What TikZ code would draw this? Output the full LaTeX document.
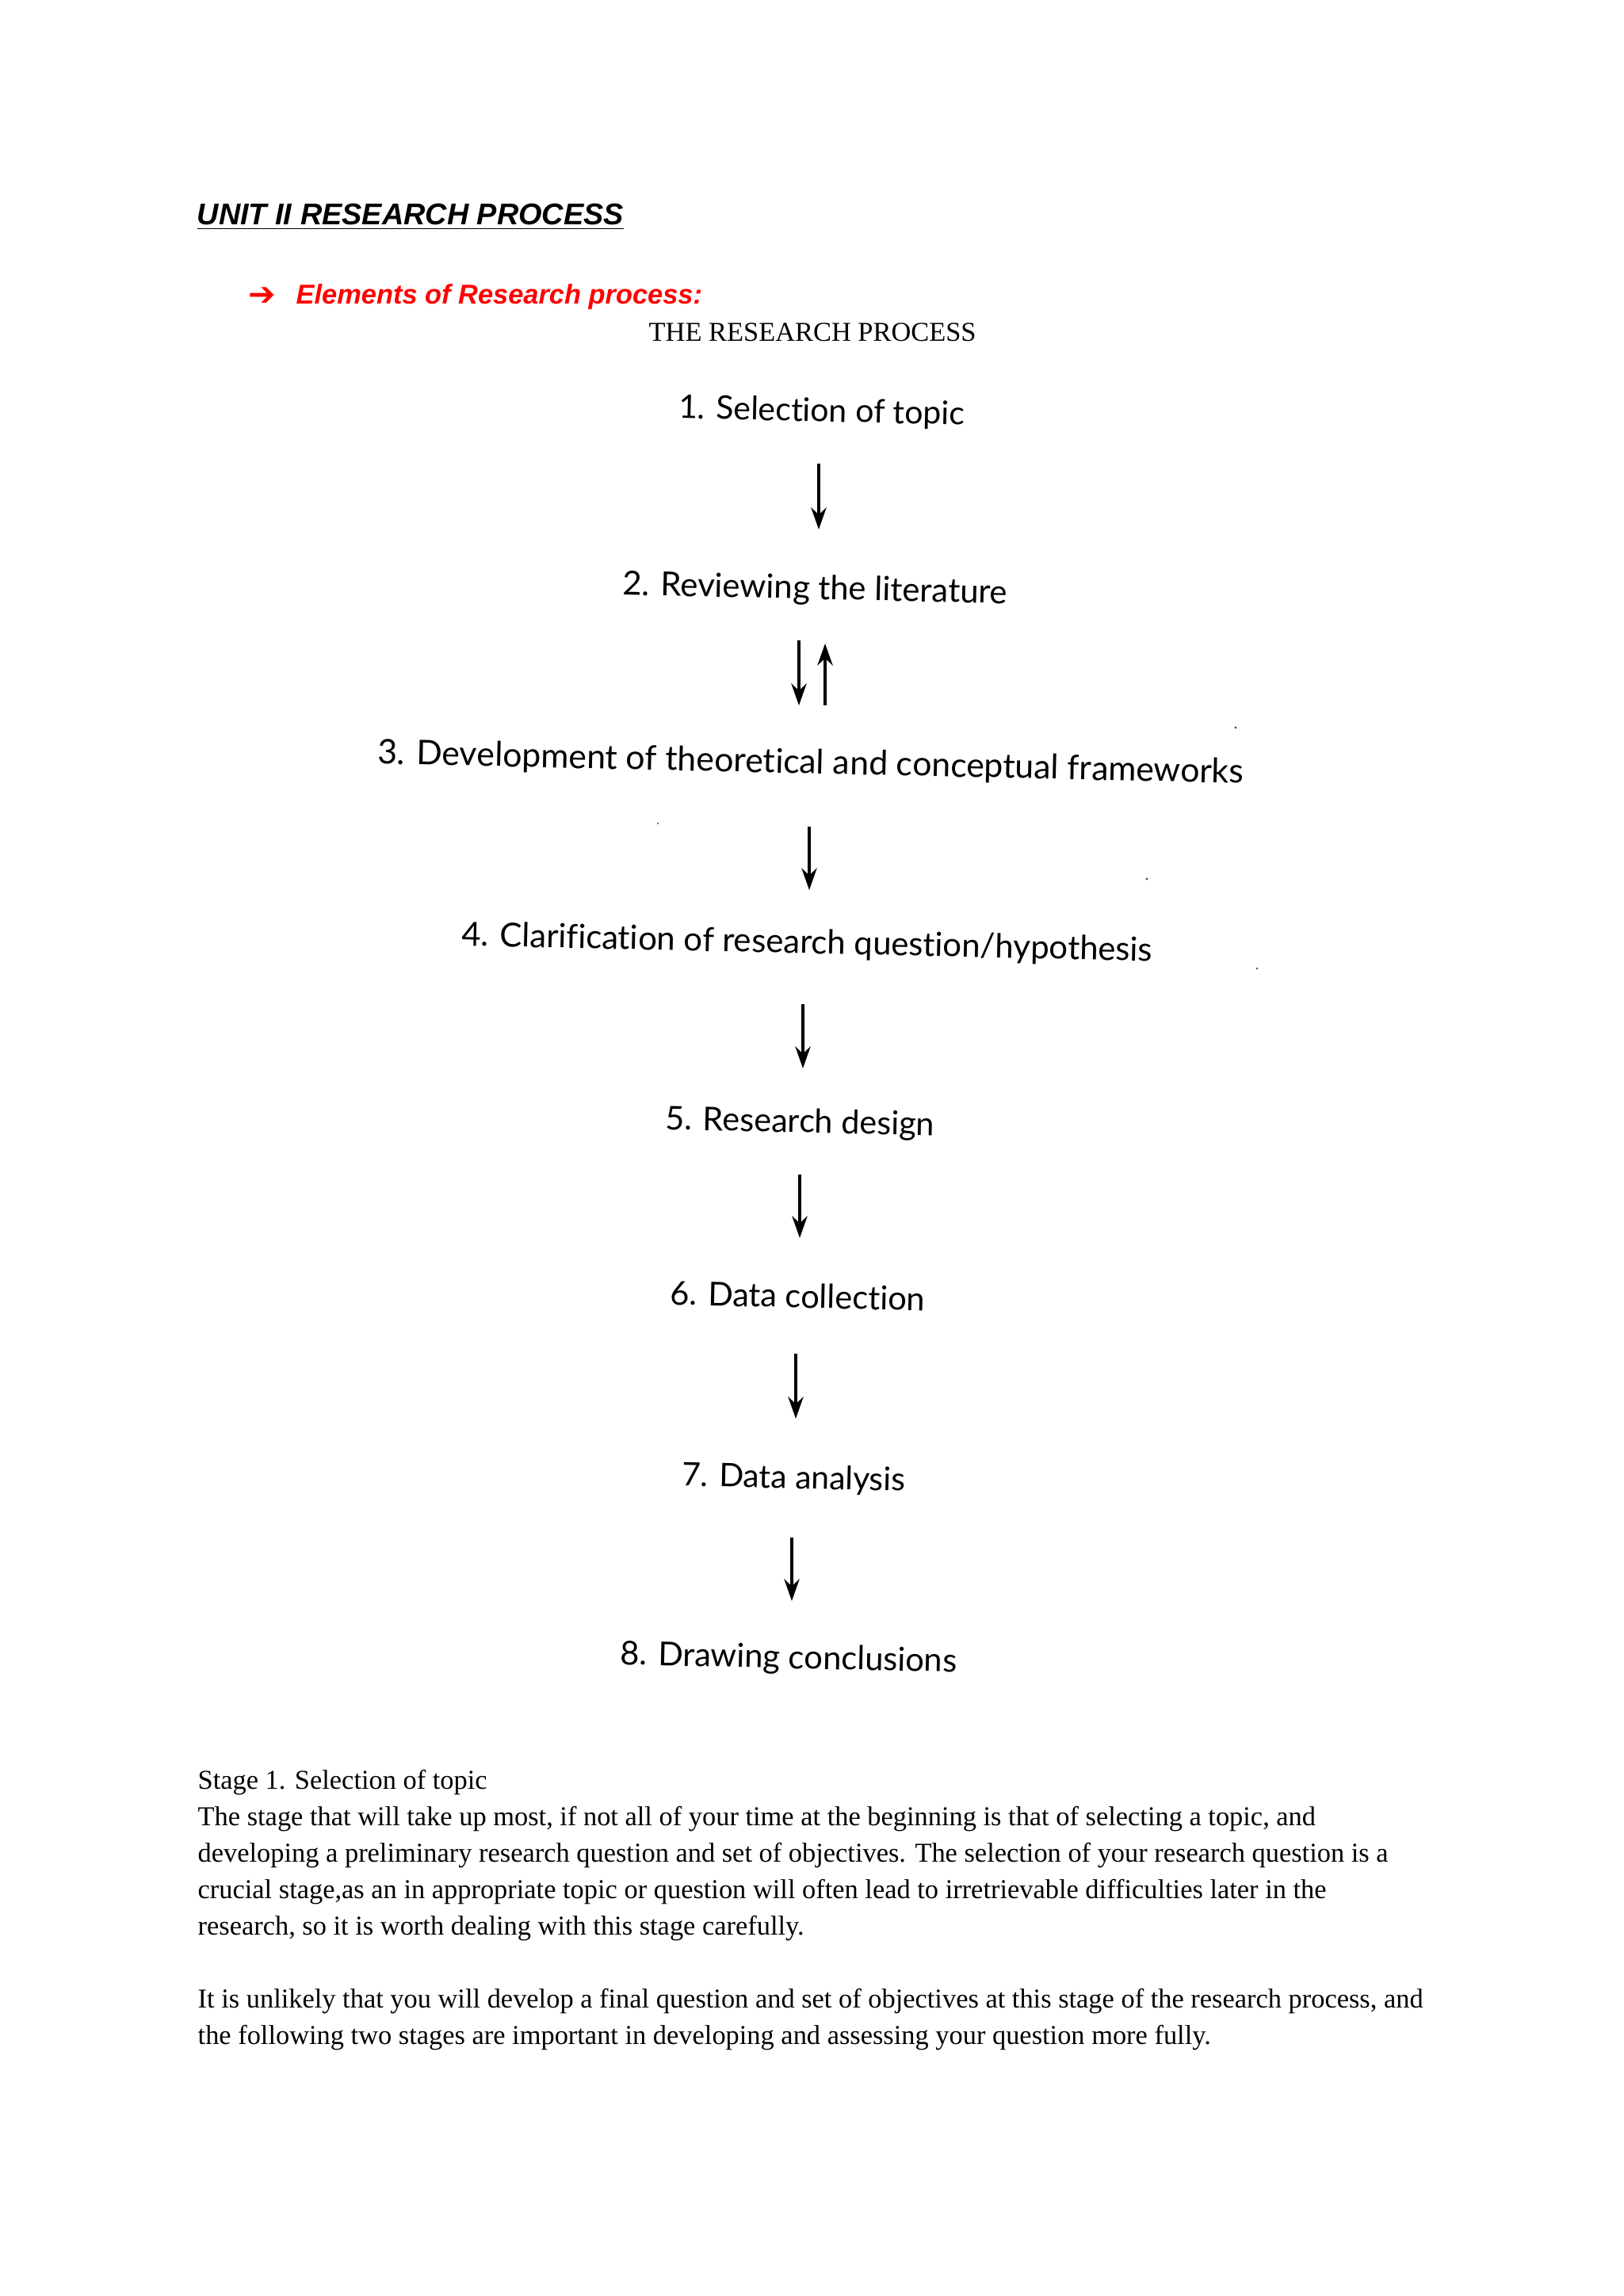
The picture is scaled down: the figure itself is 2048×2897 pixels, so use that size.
\documentclass[tikz,border=0pt]{standalone}
\usepackage{fontspec}
\setmainfont{Liberation Serif}
\newfontfamily\arialf{Liberation Sans}
\newfontfamily\diagf[Ligatures={NoCommon,NoContextual},RawFeature={-liga;-dlig;-clig}]{Lato}
\newfontfamily\symf{DejaVu Sans}
\usetikzlibrary{arrows.meta}
\newlength\pxu
\setlength\pxu{0.29066pt}
\definecolor{hdred}{HTML}{FF0000}
\begin{document}
\begin{tikzpicture}[x=0.29066pt,y=-0.29066pt,
  stage/.style={anchor=base,inner sep=0pt,rotate=-1.3,font=\diagf},
  flow/.style={-{Stealth[length=8pt,width=5.6pt,inset=2.6pt]},line width=1pt},
  bodyline/.style={anchor=base west,inner sep=0pt,font=\fontsize{10}{12}\selectfont},
  speck/.style={fill=black!70,draw=none}]
\fill[white] (0,0) rectangle (2048,2897);
\useasboundingbox (0,0) rectangle (2048,2897);
% headings
\node[anchor=base west,inner sep=0pt,font=\arialf\bfseries\itshape\fontsize{11}{13}\selectfont] (title) at (248,283) {\underline{UNIT II RESEARCH PROCESS}};
\node[anchor=base west,inner sep=0pt,text=hdred,font=\symf\fontsize{12}{14}\selectfont] (bullet) at (313,385) {➔};
\node[anchor=base west,inner sep=0pt,text=hdred,font=\arialf\bfseries\itshape\fontsize{10}{12}\selectfont] (elem) at (373,383) {Elements of Research process:};
\node[anchor=base west,inner sep=0pt,font=\fontsize{10}{12}\selectfont] (trp) at (818,430) {THE RESEARCH PROCESS};
% stages
\node[stage] (n1) at (1036.5,532) {\resizebox{361\pxu}{!}{1. Selection of topic}};
\node[stage] (n2) at (1028,756) {\resizebox{486\pxu}{!}{2. Reviewing the literature}};
\node[stage] (n3) at (1022.5,976) {\resizebox{1093\pxu}{!}{3. Development of theoretical and conceptual frameworks}};
\node[stage] (n4) at (1018,1203) {\resizebox{872\pxu}{!}{4. Clarification of research question/hypothesis}};
\node[stage] (n5) at (1009,1429) {\resizebox{340\pxu}{!}{5. Research design}};
\node[stage] (n6) at (1006,1650) {\resizebox{322\pxu}{!}{6. Data collection}};
\node[stage] (n7) at (1001,1878) {\resizebox{282\pxu}{!}{7. Data analysis}};
\node[stage] (n8) at (994.5,2105) {\resizebox{425\pxu}{!}{8. Drawing conclusions}};
% arrow end points
\coordinate (a1s) at (1033,585);  \coordinate (a1e) at (1033,668);
\coordinate (a2s) at (1008,808);  \coordinate (a2e) at (1008,890);
\coordinate (a2us) at (1041,890); \coordinate (a2ue) at (1041,812);
\coordinate (a3s) at (1021,1043); \coordinate (a3e) at (1021,1123);
\coordinate (a4s) at (1013,1267); \coordinate (a4e) at (1013,1348);
\coordinate (a5s) at (1009,1482); \coordinate (a5e) at (1009,1562);
\coordinate (a6s) at (1004,1708); \coordinate (a6e) at (1004,1790);
\coordinate (a7s) at (999,1940);  \coordinate (a7e) at (999,2020);
\draw[flow] (a1s) -- (a1e);
\draw[flow] (a2s) -- (a2e);
\draw[flow] (a2us) -- (a2ue);
\draw[flow] (a3s) -- (a3e);
\draw[flow] (a4s) -- (a4e);
\draw[flow] (a5s) -- (a5e);
\draw[flow] (a6s) -- (a6e);
\draw[flow] (a7s) -- (a7e);
% scan specks
\fill[speck] (1559,918) circle (1.6);
\fill[speck] (1447,1109) circle (1.6);
\fill[speck] (1586,1222) circle (1.4);
\fill[speck] (830,1039) circle (1.2);
% body text
\node[bodyline] (b1) at (249,2257) {Stage 1. Selection of topic};
\node[bodyline] (b2) at (249,2303) {The stage that will take up most, if not all of your time at the beginning is that of selecting a topic, and};
\node[bodyline] (b3) at (249,2349) {developing a preliminary research question and set of objectives. The selection of your research question is a};
\node[bodyline] (b4) at (249,2395) {crucial stage,as an in appropriate topic or question will often lead to irretrievable difficulties later in the};
\node[bodyline] (b5) at (249,2441) {research, so it is worth dealing with this stage carefully.};
\node[bodyline] (b6) at (249,2533) {It is unlikely that you will develop a final question and set of objectives at this stage of the research process, and};
\node[bodyline] (b7) at (249,2579) {the following two stages are important in developing and assessing your question more fully.};
\end{tikzpicture}
\end{document}
